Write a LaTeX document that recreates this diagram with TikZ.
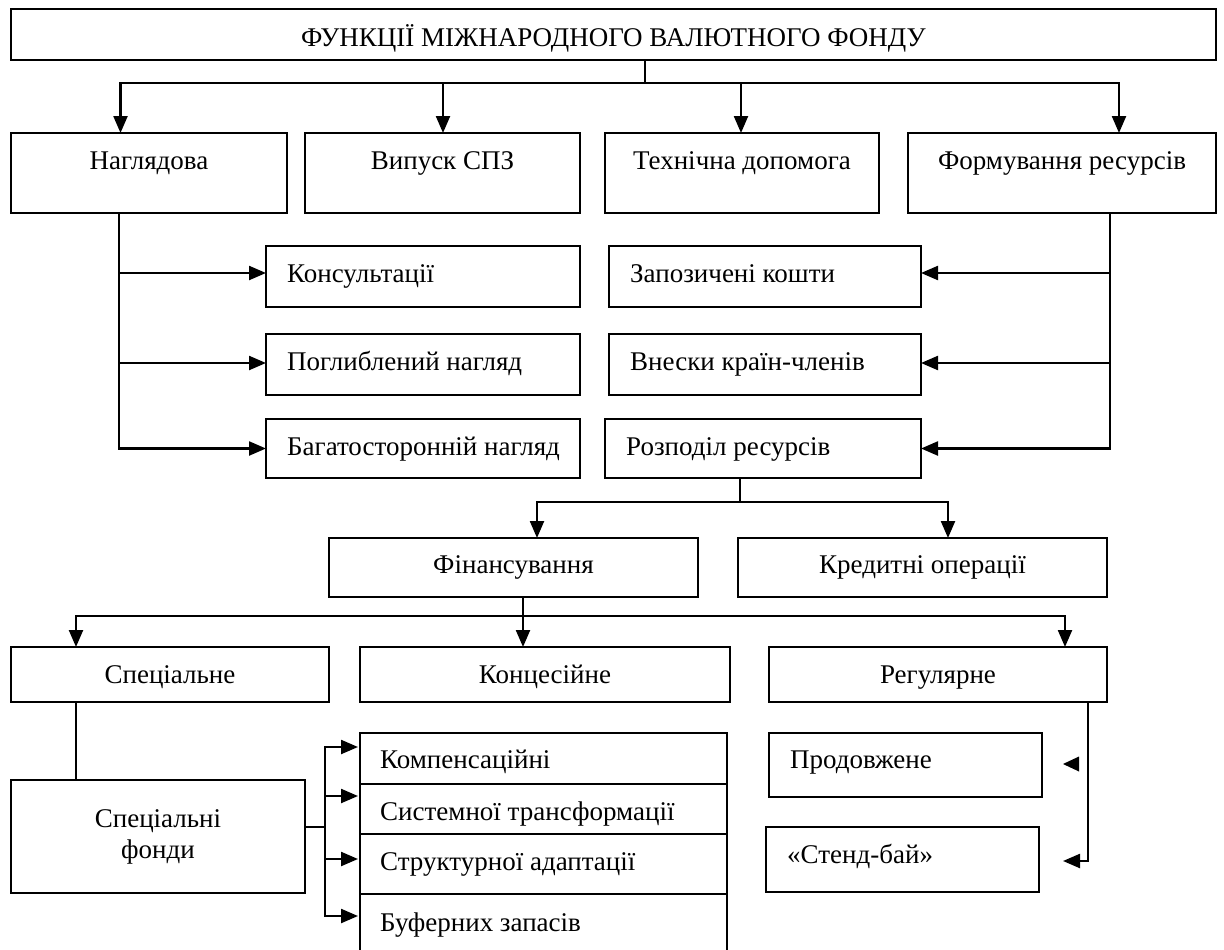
\documentclass[tikz,border=0pt]{standalone}
\usepackage{fontspec}
\setmainfont{Liberation Serif}
\usetikzlibrary{arrows.meta}
\begin{document}
\begin{tikzpicture}[x=1pt,y=-1pt,
  box/.style={draw, line width=2pt, inner sep=0pt, outer sep=0pt, anchor=north west},
  txt/.style={inner sep=0pt, font=\fontsize{27}{31}\selectfont, anchor=base},
  txtl/.style={txt, anchor=base west},
  ln/.style={line width=2.3pt},
  arr/.style={ln, -{Triangle[length=17pt,width=14pt]}}]
\useasboundingbox[fill=white] (0,0) rectangle (1224,950);

% boxes
\node[box, minimum width=1205pt, minimum height=51pt] (T) at (11,9) {};
\node[box, minimum width=276pt, minimum height=80pt] (A) at (11,133) {};
\node[box, minimum width=275pt, minimum height=80pt] (B) at (305,133) {};
\node[box, minimum width=274pt, minimum height=80pt] (C) at (605,133) {};
\node[box, minimum width=308pt, minimum height=80pt] (D) at (908,133) {};
\node[box, minimum width=314pt, minimum height=61pt] (K1) at (266,246) {};
\node[box, minimum width=314pt, minimum height=61pt] (K2) at (266,334) {};
\node[box, minimum width=314pt, minimum height=59pt] (K3) at (266,419) {};
\node[box, minimum width=312pt, minimum height=61pt] (R1) at (609,246) {};
\node[box, minimum width=312pt, minimum height=61pt] (R2) at (609,334) {};
\node[box, minimum width=316pt, minimum height=59pt] (R3) at (605,419) {};
\node[box, minimum width=369pt, minimum height=59pt] (F) at (329,538) {};
\node[box, minimum width=369pt, minimum height=59pt] (KO) at (738,538) {};
\node[box, minimum width=318pt, minimum height=55pt] (S) at (11,647) {};
\node[box, minimum width=370pt, minimum height=55pt] (KC) at (360,647) {};
\node[box, minimum width=338pt, minimum height=55pt] (RG) at (769,647) {};
\node[box, minimum width=294pt, minimum height=113pt] (SF) at (11,780) {};
\node[box, minimum width=367pt, minimum height=51pt] (P1) at (360,733) {};
\node[box, minimum width=367pt, minimum height=50pt] (P2) at (360,784) {};
\node[box, minimum width=367pt, minimum height=60pt] (P3) at (360,834) {};
\node[box, draw=none, minimum width=367pt, minimum height=56pt] (P4) at (360,894) {};
\draw[line width=2pt] (P4.south west) -- (P4.north west) -- (P4.north east) -- (P4.south east);
\node[box, minimum width=273pt, minimum height=64pt] (PR) at (769,733) {};
\node[box, minimum width=273pt, minimum height=65pt] (SB) at (766,827) {};

% texts
\node[txt] (tT) at (613.5,47) {ФУНКЦІЇ МІЖНАРОДНОГО ВАЛЮТНОГО ФОНДУ};
\node[txt] (tA) at (149,169) {Наглядова};
\node[txt] (tB) at (442.5,169) {Випуск СПЗ};
\node[txt] (tC) at (742,169) {Технічна допомога};
\node[txt] (tD) at (1062,169) {Формування ресурсів};
\node[txtl] (tK1) at (287,282) {Консультації};
\node[txtl] (tK2) at (287,370) {Поглиблений нагляд};
\node[txtl] (tK3) at (287,455) {Багатосторонній нагляд};
\node[txtl] (tR1) at (630,282) {Запозичені кошти};
\node[txtl] (tR2) at (630,370) {Внески країн-членів};
\node[txtl] (tR3) at (626,455) {Розподіл ресурсів};
\node[txt] (tF) at (513.5,573) {Фінансування};
\node[txt] (tKO) at (922.5,573) {Кредитні операції};
\node[txt] (tS) at (170,683) {Спеціальне};
\node[txt] (tKC) at (545,683) {Концесійне};
\node[txt] (tRG) at (938,683) {Регулярне};
\node[txt, anchor=center, align=center] (tSF) at (158,837) {Спеціальні\\фонди};
\node[txtl] (tP1) at (380,768) {Компенсаційні};
\node[txtl] (tP2) at (380,820) {Системної трансформації};
\node[txtl] (tP3) at (380,870) {Структурної адаптації};
\node[txtl] (tP4) at (380,931) {Буферних запасів};
\node[txtl] (tPR) at (790,768) {Продовжене};
\node[txtl] (tSB) at (787,863) {«Стенд-бай»};

% connectors
\coordinate (j0) at (645,83);
\draw[ln] (T.south -| j0) -- (j0);
\draw[arr] (j0) -| ([xshift=109.5pt]A.north west);
\draw[arr] (j0) -| ([xshift=138pt]B.north west);
\draw[arr] (j0) -| ([xshift=136pt]C.north west);
\draw[arr] (j0) -| ([xshift=211pt]D.north west);

\coordinate (jA) at ([xshift=108pt]A.south west);
\draw[arr] (jA) |- ([yshift=3.5pt]K1.west);
\draw[arr] (jA) |- ([yshift=1.5pt]K2.west);
\draw[arr] (jA) |- (K3.west);

\coordinate (jD) at ([xshift=202pt]D.south west);
\draw[arr] (jD) |- ([yshift=3.5pt]R1.east);
\draw[arr] (jD) |- ([yshift=1.5pt]R2.east);
\draw[arr] (jD) |- (R3.east);

\coordinate (j1) at (740,502);
\draw[ln] (R3.south -| j1) -- (j1);
\draw[arr] (j1) -| ([xshift=208pt]F.north west);
\draw[arr] (j1) -| ([xshift=210pt]KO.north west);

\coordinate (j2) at (523,616);
\draw[ln] (F.south -| j2) -- (j2);
\draw[arr] (j2) -| ([xshift=65pt]S.north west);
\draw[arr] (j2) -- (KC.north -| j2);
\draw[arr] (j2) -| ([xshift=296pt]RG.north west);

\draw[ln] ([xshift=65pt]S.south west) -- ([xshift=65pt]SF.north west);

\coordinate (j3) at (325,827);
\draw[ln] (SF.east |- j3) -- (j3);
\draw[arr, shorten >=2pt] (j3) |- ([yshift=11.5pt]P1.west);
\draw[arr, shorten >=2pt] (j3) |- ([yshift=13pt]P2.west);
\draw[arr, shorten >=2pt] (j3) |- ([yshift=5pt]P3.west);
\draw[arr, shorten >=2pt] (j3) |- ([yshift=6pt]P4.west);

\coordinate (sbTip) at (1063,861);
\draw[arr] ([xshift=319pt]RG.south west) |- (sbTip);
\coordinate (prTip) at (1063,764);
\fill (prTip) -- ++(16,-7.5) -- ++(0,15) -- cycle;
\end{tikzpicture}
\end{document}
